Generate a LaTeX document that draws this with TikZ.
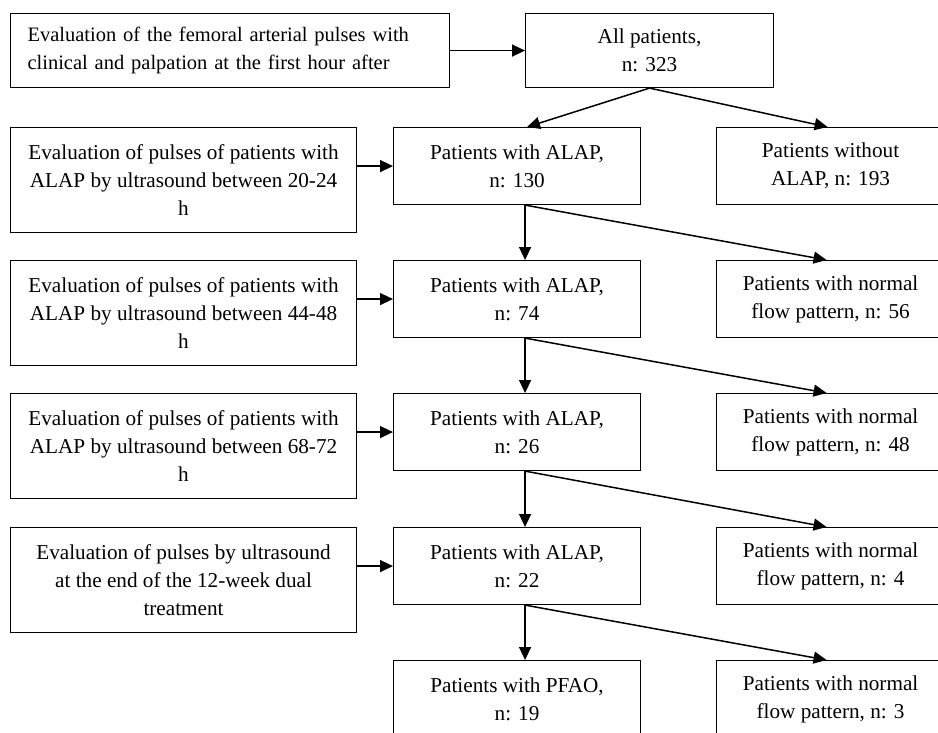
\documentclass[tikz,border=0pt]{standalone}
\usepackage{fontspec}
\setmainfont{Liberation Serif}
\usetikzlibrary{arrows.meta}

\tikzset{
  flowbox/.style={draw, line width=1.1pt, anchor=north west, inner sep=0pt,
    font=\fontsize{21.2pt}{28pt}\selectfont, align=center},
  evalbox/.style={flowbox, minimum width=346pt, minimum height=105pt},
  groupbox/.style={flowbox, minimum width=247pt, minimum height=77pt},
  sidebox/.style={flowbox, minimum width=228pt, minimum height=77pt},
  flow/.style={line width=1.5pt, -{Triangle[length=13pt, width=12pt]}}
}

\begin{document}
\begin{tikzpicture}[x=1pt, y=-1pt]
    \useasboundingbox (0,0) rectangle (938,733);

    % First hour check and the whole group
    \node[flowbox, align=left, text width=405pt, inner xsep=17pt, minimum height=74pt,
      font=\fontsize{20.5pt}{28pt}\selectfont]
      (firsthour) at (10,13) {Evaluation of the femoral arterial pulses with\\clinical and palpation at the first hour after};
    \node[flowbox, minimum width=248pt, minimum height=74pt] (all) at (525,13) {All patients,\\n: 323};
    \draw[flow] (firsthour.east) -- (all.west);

    % Row 1: 20-24 h
    \node[evalbox] (eval1) at (10,127) {Evaluation of pulses of patients with\\ALAP by ultrasound between 20-24\\h};
    \node[groupbox] (alap1) at (393,127) {Patients with ALAP,\\n: 130};
    \node[sidebox] (side1) at (716,127) {Patients without\\ALAP, n: 193};
    \draw[flow] (all.south) -- ([xshift=10pt]alap1.north);
    \draw[flow] (all.south) -- ([xshift=-3pt]side1.north);
    \draw[flow] (alap1.west -| eval1.east) -- (alap1.west);

    % Row 2: 44-48 h
    \node[evalbox] (eval2) at (10,260) {Evaluation of pulses of patients with\\ALAP by ultrasound between 44-48\\h};
    \node[groupbox] (alap2) at (393,260) {Patients with ALAP,\\n: 74};
    \node[sidebox] (side2) at (716,260) {Patients with normal\\flow pattern, n: 56};
    \draw[flow] ([xshift=8pt]alap1.south) -- ([xshift=8pt]alap2.north);
    \draw[flow] ([xshift=8pt]alap1.south) -- ([xshift=-4pt]side2.north);
    \draw[flow] (alap2.west -| eval2.east) -- (alap2.west);

    % Row 3: 68-72 h
    \node[evalbox] (eval3) at (10,393) {Evaluation of pulses of patients with\\ALAP by ultrasound between 68-72\\h};
    \node[groupbox] (alap3) at (393,393) {Patients with ALAP,\\n: 26};
    \node[sidebox] (side3) at (716,393) {Patients with normal\\flow pattern, n: 48};
    \draw[flow] ([xshift=8pt]alap2.south) -- ([xshift=8pt]alap3.north);
    \draw[flow] ([xshift=8pt]alap2.south) -- ([xshift=-4pt]side3.north);
    \draw[flow] (alap3.west -| eval3.east) -- (alap3.west);

    % Row 4: end of the 12-week treatment
    \node[evalbox] (eval4) at (10,527) {Evaluation of pulses by ultrasound\\at the end of the 12-week dual\\treatment};
    \node[groupbox] (alap4) at (393,527) {Patients with ALAP,\\n: 22};
    \node[sidebox] (side4) at (716,527) {Patients with normal\\flow pattern, n: 4};
    \draw[flow] ([xshift=8pt]alap3.south) -- ([xshift=8pt]alap4.north);
    \draw[flow] ([xshift=8pt]alap3.south) -- ([xshift=-4pt]side4.north);
    \draw[flow] (alap4.west -| eval4.east) -- (alap4.west);

    % Row 5: outcome
    \node[groupbox] (pfao) at (393,660) {Patients with PFAO,\\n: 19};
    \node[sidebox] (side5) at (716,660) {Patients with normal\\flow pattern, n: 3};
    \draw[flow] ([xshift=8pt]alap4.south) -- ([xshift=8pt]pfao.north);
    \draw[flow] ([xshift=8pt]alap4.south) -- ([xshift=-4pt]side5.north);
\end{tikzpicture}
\end{document}
